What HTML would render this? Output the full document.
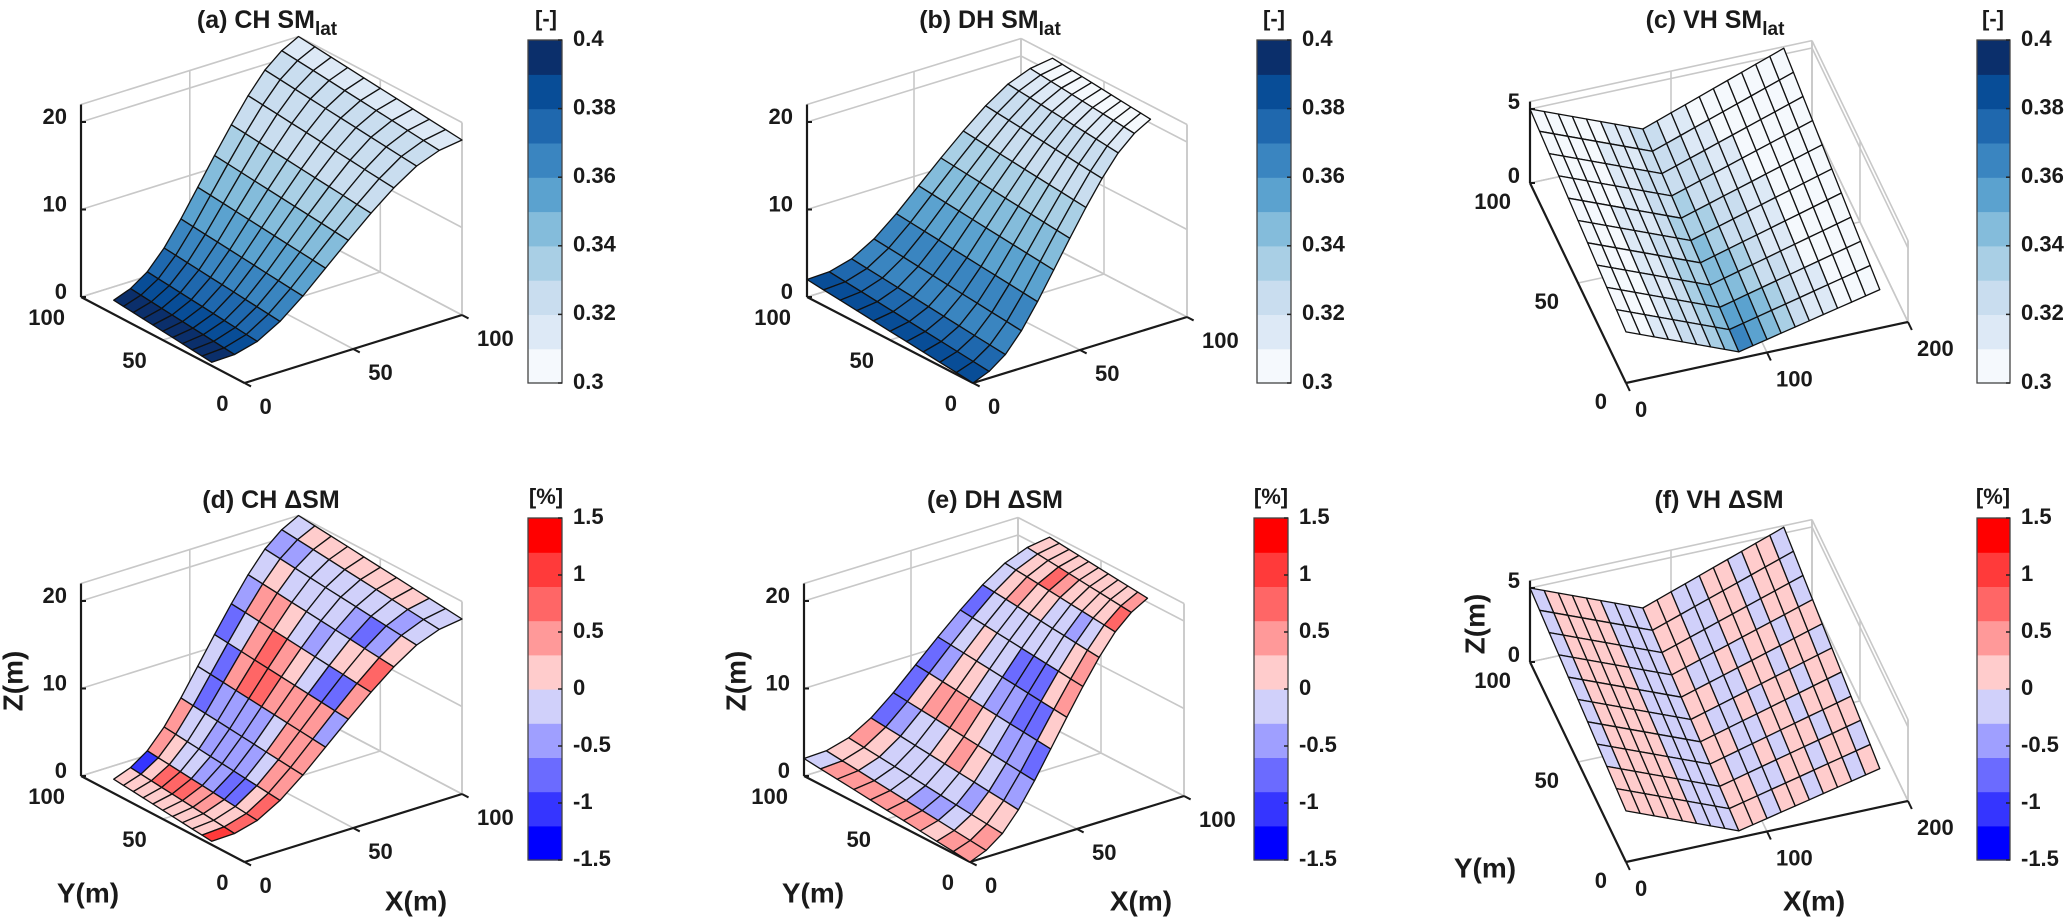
<!DOCTYPE html>
<html><head><meta charset="utf-8">
<style>
html,body{margin:0;padding:0;background:#fff;}
svg{display:block;font-family:"Liberation Sans",Arial,sans-serif;font-weight:bold;}
</style></head>
<body>
<svg id="fig" width="2067" height="918" viewBox="0 0 2067 918" xmlns="http://www.w3.org/2000/svg"></svg>
<script>
// ---------- data ----------
const zProfile = [0,0.4,1.4,3.2,5.6,8.3,11.0,13.6,16.0,18.0,19.3,20.0];
const smCH = [0.395,0.385,0.375,0.365,0.355,0.345,0.335,0.325,0.324,0.322,0.315];
const smDH = [0.385,0.375,0.366,0.36,0.352,0.345,0.336,0.328,0.322,0.315,0.308];
const smVH = [
[.305,.307,.310,.315,.321,.329,.338,.350,.362,.358,.345,.333,.324,.317,.311,.307,.305,.303],
[.304,.306,.309,.314,.320,.327,.336,.347,.356,.352,.340,.330,.322,.315,.310,.306,.304,.303],
[.304,.306,.309,.313,.318,.325,.333,.343,.350,.346,.336,.327,.320,.314,.309,.306,.304,.302],
[.303,.305,.308,.312,.317,.323,.331,.339,.345,.341,.332,.324,.318,.313,.308,.305,.303,.302],
[.303,.305,.307,.311,.315,.321,.328,.336,.341,.337,.329,.322,.316,.311,.307,.305,.303,.302],
[.303,.304,.306,.310,.314,.319,.325,.332,.337,.333,.326,.320,.314,.310,.306,.304,.303,.302],
[.302,.304,.306,.309,.313,.317,.323,.329,.333,.329,.323,.317,.312,.308,.305,.303,.302,.301],
[.302,.303,.305,.308,.311,.315,.320,.326,.329,.325,.320,.315,.310,.307,.304,.303,.302,.301],
[.302,.303,.305,.307,.310,.313,.318,.323,.326,.322,.317,.312,.308,.305,.303,.302,.301,.301],
[.301,.302,.304,.306,.308,.311,.315,.320,.322,.318,.313,.309,.306,.304,.302,.301,.301,.301]];
const dCH = [
[0.1,0.1,0.1,0.1,0.1,0.1,0.1,0.1,0.2,1.0],
[-1.2,0.1,0.6,0.6,0.6,0.4,0.3,0.1,0.1,0.7],
[0.4,0.1,-0.2,-0.3,-0.4,-0.6,-0.9,-0.7,0.1,0.8],
[0.4,-0.1,-0.2,-0.4,-0.5,-0.5,-0.4,-0.3,0.3,0.5],
[-0.2,-0.8,-0.6,-0.5,-0.4,-0.4,-0.3,0.4,0.5,0.5],
[-0.1,-0.8,0.5,0.7,0.7,0.5,0.4,0.4,0.5,-0.4],
[-0.8,-0.1,0.5,0.6,0.4,0.2,-0.1,-0.8,-0.9,0.5],
[-0.5,0.4,0.5,0.2,-0.3,-0.5,-0.3,0.2,0.2,0.6],
[-0.2,0.1,-0.2,-0.2,-0.3,-0.2,-0.6,-0.7,-0.4,0.1],
[-0.5,-0.4,-0.3,-0.1,-0.1,-0.1,-0.1,-0.2,-0.4,-0.2],
[-0.2,0.1,0.2,0.1,0.1,0.2,0.2,0.1,-0.1,-0.2]];
const dDH = [
[-0.1,0.4,0.4,0.4,0.4,0.4,0.4,0.2,0.3,0.3],
[0.2,0.1,-0.1,-0.3,-0.3,-0.4,-0.4,-0.2,0.1,0.4],
[0.5,0.1,-0.1,-0.2,-0.3,-0.2,-0.3,-0.4,0.2,0.1],
[-0.8,-0.4,-0.1,-0.1,0.2,0.3,0.2,-0.2,-0.4,-0.6],
[-0.7,0.1,0.4,0.5,0.5,0.2,-0.2,-0.4,-0.5,-0.8],
[-0.8,-0.4,0.1,0.1,-0.1,-0.4,-0.6,-0.7,-0.8,0.1],
[-0.4,-0.3,0.2,-0.1,-0.3,-0.7,-0.8,-0.8,0.1,0.5],
[-0.8,-0.3,-0.1,-0.2,-0.2,-0.3,-0.2,-0.2,0.2,0.5],
[-0.2,0.2,0.3,0.2,0.1,-0.1,-0.2,-0.4,-0.2,0.1],
[-0.1,0.2,0.2,0.6,0.3,0.2,0.1,0.2,0.1,0.6],
[0.1,0.2,0.2,0.2,0.2,0.2,0.2,0.2,0.2,0.3]];
const dVH = [
[0.1,0.1,0.1,0.1,0.1,-0.1,-0.1,-0.1,0.1,0.1,-0.1,0.1,0.1,-0.1,0.1,0.1,-0.1,0.1],
[0.1,0.1,0.1,0.1,0.1,-0.1,-0.1,-0.1,0.1,0.1,-0.1,-0.1,0.1,0.1,-0.1,0.1,0.1,-0.1],
[-0.1,0.1,0.1,0.1,0.1,-0.1,-0.1,-0.1,0.1,-0.1,-0.1,0.1,-0.1,0.1,0.1,-0.1,0.1,0.1],
[-0.1,0.1,0.1,0.1,0.1,-0.1,-0.1,-0.1,0.1,0.1,-0.1,-0.1,0.1,0.1,-0.1,0.1,0.1,-0.1],
[-0.1,0.1,0.1,0.1,0.1,-0.1,-0.1,-0.1,0.1,-0.1,-0.1,0.1,-0.1,0.1,0.1,-0.1,0.1,0.1],
[-0.1,0.1,0.1,0.1,0.1,-0.1,-0.1,-0.1,0.1,0.1,-0.1,-0.1,0.1,0.1,-0.1,0.1,0.1,-0.1],
[-0.1,0.1,0.1,0.1,0.1,-0.1,-0.1,-0.1,0.1,-0.1,-0.1,0.1,-0.1,0.1,0.1,-0.1,0.1,0.1],
[-0.1,0.1,0.1,0.1,0.1,-0.1,-0.1,-0.1,0.1,0.1,-0.1,-0.1,0.1,0.1,-0.1,0.1,0.1,-0.1],
[-0.1,0.1,0.1,0.1,0.1,-0.1,-0.1,-0.1,0.1,0.1,-0.1,-0.1,0.1,0.1,-0.1,0.1,0.1,-0.1],
[-0.1,0.1,0.1,0.1,0.1,-0.1,-0.1,-0.1,0.1,0.1,-0.1,-0.1,0.1,0.1,-0.1,0.1,0.1,-0.1]];
const smTicks = [0.3,0.32,0.34,0.36,0.38,0.4];
const smTickLabels = ["0.3","0.32","0.34","0.36","0.38","0.4"];
const dTicks = [-1.5,-1,-0.5,0,0.5,1,1.5];
const dTickLabels = ["-1.5","-1","-0.5","0","0.5","1","1.5"];
const hillTicks = [0,50,100];
const hillZTicks = [0,10,20];
const vhXTicks = [0,100,200];
const vhYTicks = [0,50,100];
const vhZTicks = [0,5];

// ---------- colour maps ----------
const blues = ['#f5f9fd','#dde9f6','#c9ddef','#a9cfe5','#84bcdb','#5ba2cf','#3a85c0','#1f68ae','#084d97','#0b2f6b'];
const redblue = ['#0000ff','#3535ff','#6b6bff','#9f9fff','#d0d0fa','#ffcccc','#ff9999','#ff6666','#ff3a3a','#ff0000'];
function colBlue(v){let i=Math.floor((v-0.3)/0.01);return blues[Math.max(0,Math.min(9,i))];}
function colRB(v){let i=Math.floor((v+1.5)/0.3);return redblue[Math.max(0,Math.min(9,i))];}

const NS='http://www.w3.org/2000/svg';
const svg=document.getElementById('fig');
function mk(tag,attrs,parent){const e=document.createElementNS(NS,tag);for(const k in attrs)e.setAttribute(k,attrs[k]);(parent||svg).appendChild(e);return e;}

// ---------- panels (geometry) ----------
const panels=[
 {id:'a',kind:'CH',map:'sm',ox:244.5,oy:383,ex:[2.175,-0.68],ey:[-1.635,-0.86],ez:-8.75,xl:100,yl:100,zl:22,cb:[528,40,34,343],tx:267,ty:28,title:'(a) CH SM',sub:'lat',unitx:546,unity:28},
 {id:'b',kind:'DH',map:'sm',ox:973,oy:383,ex:[2.14,-0.66],ey:[-1.66,-0.86],ez:-8.75,xl:100,yl:100,zl:22,cb:[1257,40,34,343],tx:990,ty:28,title:'(b) DH SM',sub:'lat',unitx:1274,unity:28},
 {id:'c',kind:'VH',map:'sm',ox:1626,oy:383,ex:[1.41,-0.305],ey:[-0.96,-2.0],ez:-14.8,xl:200,yl:100,zl:5.5,cb:[1977,40,33,343],tx:1715,ty:28,title:'(c) VH SM',sub:'lat',unitx:1993,unity:28},
 {id:'d',kind:'CH',map:'d',ox:244.5,oy:862,ex:[2.175,-0.68],ey:[-1.635,-0.86],ez:-8.75,xl:100,yl:100,zl:22,cb:[528,518,34,342],tx:271,ty:508,title:'(d) CH \u0394SM',unitx:546,unity:506,lab:{z:[15,681],y:[88,895],x:[416,903]}},
 {id:'e',kind:'DH',map:'d',ox:970,oy:862,ex:[2.14,-0.66],ey:[-1.66,-0.86],ez:-8.75,xl:100,yl:100,zl:22,cb:[1254,518,34,342],tx:995,ty:508,title:'(e) DH \u0394SM',unitx:1271,unity:506,lab:{z:[738,681],y:[813,895],x:[1141,903]}},
 {id:'f',kind:'VH',map:'d',ox:1626,oy:862,ex:[1.41,-0.305],ey:[-0.96,-2.0],ez:-14.8,xl:200,yl:100,zl:5.5,cb:[1977,518,33,342],tx:1719,ty:508,title:'(f) VH \u0394SM',unitx:1993,unity:506,lab:{z:[1477,624],y:[1485,870],x:[1814,903]}}
];

function proj(p,X,Y,Z){return [p.ox+X*p.ex[0]+Y*p.ey[0], p.oy+X*p.ex[1]+Y*p.ey[1]+Z*p.ez];}
function line(g,p,a,b,stroke,w,name){
  const A=proj(p,a[0],a[1],a[2]),B=proj(p,b[0],b[1],b[2]);
  const l=mk('line',{x1:A[0].toFixed(1),y1:A[1].toFixed(1),x2:B[0].toFixed(1),y2:B[1].toFixed(1),stroke:stroke,'stroke-width':w},g);
  
  
  return l;
}
function text(g,x,y,str,size,anchor,name){
  const t=mk('text',{x:x,y:y,'font-size':size,'text-anchor':anchor||'middle','dominant-baseline':'middle',fill:'#1a1a1a'},g);
  t.textContent=str;
  
  
  return t;
}

function surfaceNodes(p){
  const nodes=[];
  if(p.kind==='VH'){
    for(let m=0;m<=10;m++){const row=[];const Y=m*10;
      for(let k=0;k<=18;k++){const X=k*10;const ch=0.45+0.0155*Y;
        let z= X<80 ? ch+3.0*(80-X)/80 : ch+(X-80)/100*(2.15+0.0125*Y);
        row.push([X,Y,z]);}
      nodes.push(row);}
  } else {
    const lo0=p.kind==='CH'?20:0, hi0=p.kind==='CH'?80:100, lo1=p.kind==='CH'?0:22, hi1=p.kind==='CH'?100:81;
    const n=zProfile.length-1;
    for(let i=0;i<=n;i++){const row=[];const f=i/n;const X=100*f;
      const lo=lo0+(lo1-lo0)*f, hi=hi0+(hi1-hi0)*f;
      for(let j=0;j<=10;j++){const Y=lo+(hi-lo)*j/10;row.push([X,Y,zProfile[i]+0.02*Y]);}
      nodes.push(row);}
  }
  return nodes;
}
function cellValue(p,r,c){
  if(p.kind==='VH') return p.map==='sm'?smVH[r][c]:dVH[r][c];
  if(p.map==='sm') return p.kind==='CH'?smCH[r]:smDH[r];
  const arr=p.kind==='CH'?dCH:dDH;
  return arr[r][9-c];
}

panels.forEach(p=>{
  const g=mk('g',{});
  
  
  const grey='#c8c8c8', gw=1.6;
  const xt=p.kind==='VH'?vhXTicks:hillTicks, yt=p.kind==='VH'?vhYTicks:hillTicks, zt=p.kind==='VH'?vhZTicks:hillZTicks;
  const X=p.xl,Y=p.yl,Z=p.zl;
  // back walls & floor grid
  zt.forEach(z=>{line(g,p,[0,Y,z],[X,Y,z],grey,gw,'grid-z');line(g,p,[X,Y,z],[X,0,z],grey,gw,'grid-z');});
  xt.forEach(x=>{line(g,p,[x,Y,0],[x,Y,Z],grey,gw,'grid-x');line(g,p,[x,0,0],[x,Y,0],grey,gw,'grid-x');});
  yt.forEach(y=>{line(g,p,[X,y,0],[X,y,Z],grey,gw,'grid-y');line(g,p,[0,y,0],[X,y,0],grey,gw,'grid-y');});
  line(g,p,[0,Y,Z],[X,Y,Z],grey,gw,'box-edge');line(g,p,[X,Y,Z],[X,0,Z],grey,gw,'box-edge');
  line(g,p,[X,0,0],[X,0,Z],grey,gw,'box-edge');line(g,p,[X,Y,0],[X,Y,Z],grey,gw,'box-edge');
  // black axes
  line(g,p,[0,0,0],[X,0,0],'#1a1a1a',2.2,'x-axis');
  line(g,p,[0,0,0],[0,Y,0],'#1a1a1a',2.2,'y-axis');
  line(g,p,[0,Y,0],[0,Y,Z],'#1a1a1a',2.2,'z-axis');
  // ticks and labels
  xt.forEach(x=>{const a=proj(p,x,0,0);const l=mk('line',{x1:a[0],y1:a[1],x2:a[0]+p.ey[0]*-4,y2:a[1]+p.ey[1]*-4,stroke:'#1a1a1a','stroke-width':2},g);
    
    const o=p.kind==='VH'?[9,28]:[15,25];text(g,a[0]+o[0],a[1]+o[1],String(x),22,'start','x-tick-label');});
  yt.forEach(y=>{const a=proj(p,0,y,0);const o=p.kind==='VH'?[-19,20]:[-16,22];text(g,a[0]+o[0],a[1]+o[1],String(y),22,'end','y-tick-label');});
  zt.forEach(z=>{const a=proj(p,0,Y,z);const l=mk('line',{x1:a[0],y1:a[1],x2:a[0]+5,y2:a[1],stroke:'#1a1a1a','stroke-width':2},g);
    
    const o=p.kind==='VH'?[-10,-6]:[-14,-4];text(g,a[0]+o[0],a[1]+o[1],String(z),22,'end','z-tick-label');});
  // surface
  const nodes=surfaceNodes(p);
  const dv=[-p.ey[0],p.ex[0]];
  const cells=[];
  for(let r=0;r<nodes.length-1;r++)for(let c=0;c<nodes[0].length-1;c++){
    const q=[nodes[r][c],nodes[r][c+1],nodes[r+1][c+1],nodes[r+1][c]];
    const cx=(q[0][0]+q[2][0])/2, cy=(q[0][1]+q[2][1])/2;
    cells.push({q:q,r:r,c:c,d:cx*dv[0]+cy*dv[1]});}
  cells.sort((a,b)=>b.d-a.d);
  const sg=mk('g',{},g);
  
  
  cells.forEach(cl=>{
    const v=cellValue(p,cl.r,cl.c);
    const pts=cl.q.map(n=>proj(p,n[0],n[1],n[2]).map(t=>t.toFixed(1)).join(',')).join(' ');
    const poly=mk('polygon',{points:pts,fill:p.map==='sm'?colBlue(v):colRB(v),stroke:'#111','stroke-width':1.3,'stroke-linejoin':'round'},sg);
    
    
  });
  // title
  const t=mk('text',{x:p.tx,y:p.ty,'font-size':25,'text-anchor':'middle',fill:'#1a1a1a'},g);
  
  
  t.appendChild(document.createTextNode(p.title));
  if(p.sub){const s=mk('tspan',{'font-size':19,dy:7},t);s.textContent=p.sub;}
  // colorbar
  const [bx,by,bw,bh]=p.cb;
  const cg=mk('g',{},g);
  
  
  const cols=p.map==='sm'?blues:redblue;
  for(let i=0;i<10;i++){const r=mk('rect',{x:bx,y:(by+bh-(i+1)*bh/10).toFixed(1),width:bw,height:(bh/10+0.6).toFixed(1),fill:cols[i]},cg);
    }
  const fr=mk('rect',{x:bx,y:by,width:bw,height:bh,fill:'none',stroke:'#444','stroke-width':1.3},cg);
  
  const tv=p.map==='sm'?smTicks:dTicks, tl=p.map==='sm'?smTickLabels:dTickLabels;
  const lo=tv[0],hi=tv[tv.length-1];
  tv.forEach((v,i)=>{const y=by+bh*(hi-v)/(hi-lo);
    const l=mk('line',{x1:bx+bw-4,y1:y,x2:bx+bw,y2:y,stroke:'#222','stroke-width':1.5},cg);
    
    text(cg,bx+bw+11,y,tl[i],22,'start','colorbar-tick-label');});
  text(g,p.unitx,p.unity-8,p.map==='sm'?'[-]':'[%]',22,'middle','colorbar-unit');
  if(p.lab){
    const zl=text(g,p.lab.z[0],p.lab.z[1],'Z(m)',28,'middle','z-axis-title');
    zl.setAttribute('transform','rotate(-90 '+p.lab.z[0]+' '+p.lab.z[1]+')');
    text(g,p.lab.y[0],p.lab.y[1],'Y(m)',28,'middle','y-axis-title');
    text(g,p.lab.x[0],p.lab.x[1],'X(m)',28,'middle','x-axis-title');
  }
});
</script>
</body></html>
